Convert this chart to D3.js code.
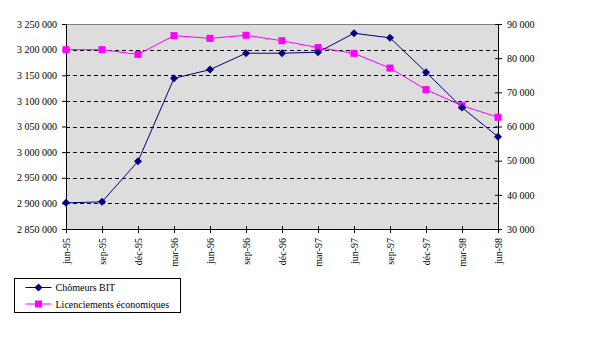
<!DOCTYPE html>
<html>
<head>
<meta charset="utf-8">
<script src="https://cdn.jsdelivr.net/npm/d3@7"></script>
<style>
  body { margin: 0; background: #fff; }
  svg { display: block; font-family: "Liberation Serif", "Times New Roman", serif; }
</style>
</head>
<body>
<div id="chart"></div>
<script>
// Data
const months = ["jun-95", "sep-95", "déc-95", "mar-96", "jun-96", "sep-96", "déc-96",
                "mar-97", "jun-97", "sep-97", "déc-97", "mar-98", "jun-98"];
const chomeurs = [2901000, 2903000, 2982000, 3144000, 3161000, 3193000, 3193000,
                  3195000, 3232000, 3223000, 3156000, 3087000, 3030000];
const licenciements = [82500, 82500, 81100, 86600, 85800, 86700, 85100,
                       83100, 81400, 77100, 70800, 66100, 62700];
const leftTicks = [2850000, 2900000, 2950000, 3000000, 3050000, 3100000, 3150000, 3200000, 3250000];
const rightTicks = [30000, 40000, 50000, 60000, 70000, 80000, 90000];
const seriesNames = ["Chômeurs BIT", "Licenciements économiques"];

const W = 594, H = 352;
const margin = { top: 24, right: 96, bottom: 123, left: 66 };
const pw = W - margin.left - margin.right;
const ph = H - margin.top - margin.bottom;

const fmt = v => d3.format(",")(v).replace(/,/g, " ");

const svg = d3.select("#chart").append("svg").attr("width", W).attr("height", H);
const g = svg.append("g").attr("transform", `translate(${margin.left},${margin.top})`);

const x = d3.scalePoint().domain(months).range([0, pw]);
const yL = d3.scaleLinear().domain([2850000, 3250000]).range([ph, 0]);
const yR = d3.scaleLinear().domain([30000, 90000]).range([ph, 0]);

// plot area
g.append("rect").attr("width", pw).attr("height", ph).attr("fill", "#dddddd");
g.append("line").attr("x1", 0).attr("x2", pw).attr("y1", 0.5).attr("y2", 0.5)
  .attr("stroke", "#808080");

// dashed gridlines
g.selectAll(".grid").data(leftTicks.slice(1, -1)).enter().append("line")
  .attr("x1", 0).attr("x2", pw)
  .attr("y1", d => Math.round(yL(d)) + 0.5).attr("y2", d => Math.round(yL(d)) + 0.5)
  .attr("stroke", "#000").attr("stroke-dasharray", "4,3");

// axes
const axL = g.append("g").call(d3.axisLeft(yL).tickValues(leftTicks).tickFormat(fmt).tickSize(4).tickPadding(5));
const axR = g.append("g").attr("transform", `translate(${pw},0)`)
  .call(d3.axisRight(yR).tickValues(rightTicks).tickFormat(fmt).tickSize(4).tickPadding(5));
const axB = g.append("g").attr("transform", `translate(0,${ph})`)
  .call(d3.axisBottom(x).tickSize(4).tickPadding(5));

[axL, axR, axB].forEach(a => {
  a.select(".domain").attr("stroke", "#000");
  a.selectAll(".tick line").attr("stroke", "#000");
  a.selectAll("text").attr("fill", "#000").style("font-size", "10px")
    .style("font-family", "'Liberation Serif', 'Times New Roman', serif");
});
axR.selectAll(".tick line").attr("x1", -3).attr("x2", 4);
axB.selectAll(".tick line").attr("y1", -3).attr("y2", 4);
axB.selectAll(".tick text")
  .attr("transform", "rotate(-90)")
  .attr("text-anchor", "end")
  .attr("x", -9).attr("y", 0).attr("dy", "0.35em");

// series
const navy = "#000080", pink = "#ff00ff";
const lineL = d3.line().x((d, i) => x(months[i])).y(d => yL(d));
const lineR = d3.line().x((d, i) => x(months[i])).y(d => yR(d));

g.append("path").datum(licenciements).attr("d", lineR)
  .attr("fill", "none").attr("stroke", pink).attr("stroke-width", 1);
g.append("path").datum(chomeurs).attr("d", lineL)
  .attr("fill", "none").attr("stroke", navy).attr("stroke-width", 1);

// regular diamond, like the Excel marker
const diamond = "M0,-4L4,0L0,4L-4,0Z";
g.selectAll(".sq").data(licenciements).enter().append("rect")
  .attr("x", (d, i) => x(months[i]) - 3.5).attr("y", d => yR(d) - 3.5)
  .attr("width", 7).attr("height", 7).attr("fill", pink);
g.selectAll(".dm").data(chomeurs).enter().append("path")
  .attr("d", diamond)
  .attr("transform", (d, i) => `translate(${x(months[i])},${yL(d)})`)
  .attr("fill", navy);

// legend
const lg = svg.append("g").attr("transform", "translate(14.5,278.5)");
lg.append("rect").attr("width", 166).attr("height", 34).attr("fill", "#fff").attr("stroke", "#000");
seriesNames.forEach((name, i) => {
  const yy = 9 + i * 16.5;
  const col = i === 0 ? navy : pink;
  lg.append("line").attr("x1", 11).attr("x2", 37).attr("y1", yy).attr("y2", yy).attr("stroke", col);
  if (i === 0) {
    lg.append("path").attr("d", diamond).attr("transform", `translate(24,${yy})`).attr("fill", col);
  } else {
    lg.append("rect").attr("x", 20.5).attr("y", yy - 3.5).attr("width", 7).attr("height", 7).attr("fill", col);
  }
  lg.append("text").attr("x", 41).attr("y", yy).attr("dy", "0.35em")
    .style("font-size", "10px").attr("fill", "#000").text(name);
});
</script>
</body>
</html>
